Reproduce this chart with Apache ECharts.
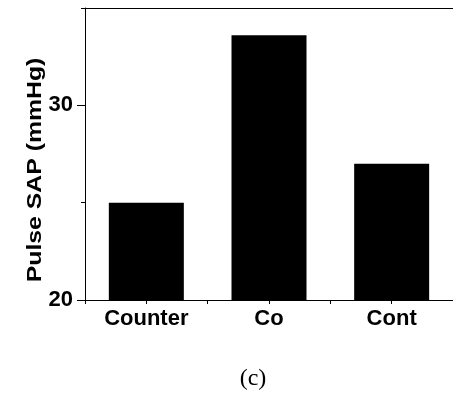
<!DOCTYPE html>
<html>
<head>
<meta charset="utf-8">
<script src="https://cdn.jsdelivr.net/npm/echarts@6/dist/echarts.min.js"></script>
<style>
  html, body { margin: 0; padding: 0; background: #fff; }
  #chart { width: 453px; height: 394px; }
</style>
</head>
<body>
<div id="chart"></div>
<script>
const categories = ["Counter", "Co", "Cont"];
const pulseSap = [25, 33.6, 27];
const yMajorTicks = [20, 30];
const yMinorTicks = [25, 35];
const yTitle = "Pulse SAP (mmHg)";
const panelLabel = "(c)";

const chart = echarts.init(document.getElementById("chart"));
const font = "'Liberation Sans', Arial, sans-serif";
const black = { color: "#000", width: 1 };

chart.setOption({
  animation: false,
  grid: { left: 85, top: 8, width: 370, height: 292 },
  xAxis: [
    {
      type: "category",
      data: categories,
      axisLine: { show: true, lineStyle: black },
      axisTick: { show: true, length: 4, lineStyle: black },
      axisLabel: { color: "#000", fontFamily: font, fontWeight: "bold", fontSize: 22, margin: 8 }
    },
    {
      // ticks at category centres as well
      type: "category",
      data: categories,
      position: "bottom",
      axisLine: { show: false },
      axisTick: { show: true, alignWithLabel: true, length: 4, lineStyle: black },
      axisLabel: { show: false }
    },
    {
      // top frame line
      type: "category",
      data: categories,
      position: "top",
      axisLine: { show: true, lineStyle: black },
      axisTick: { show: false },
      axisLabel: { show: false }
    }
  ],
  yAxis: [
    {
      type: "value",
      min: 20,
      max: 35,
      splitLine: { show: false },
      axisLine: { show: true, lineStyle: black },
      axisTick: { show: true, customValues: yMajorTicks, length: 8, lineStyle: black },
      axisLabel: { customValues: yMajorTicks, color: "#000", fontFamily: font, fontWeight: "bold", fontSize: 22, margin: 12 }
    },
    {
      // minor ticks
      type: "value",
      min: 20,
      max: 35,
      position: "left",
      splitLine: { show: false },
      axisLine: { show: false },
      axisTick: { show: true, customValues: yMinorTicks, length: 4, lineStyle: black },
      axisLabel: { show: false }
    }
  ],
  series: [
    {
      type: "bar",
      data: pulseSap,
      barWidth: 75,
      itemStyle: { color: "#000" }
    }
  ],
  graphic: [
    {
      type: "text",
      x: 35,
      y: 170,
      rotation: Math.PI / 2,
      scaleX: 1.24,
      style: {
        text: yTitle,
        fill: "#000",
        font: "bold 20px " + font,
        textAlign: "center",
        textVerticalAlign: "middle"
      }
    },
    {
      type: "text",
      x: 253,
      y: 379,
      style: {
        text: panelLabel,
        fill: "#000",
        font: "24px 'Liberation Serif', 'Times New Roman', serif",
        textAlign: "center",
        textVerticalAlign: "middle"
      }
    }
  ]
});
</script>
</body>
</html>
